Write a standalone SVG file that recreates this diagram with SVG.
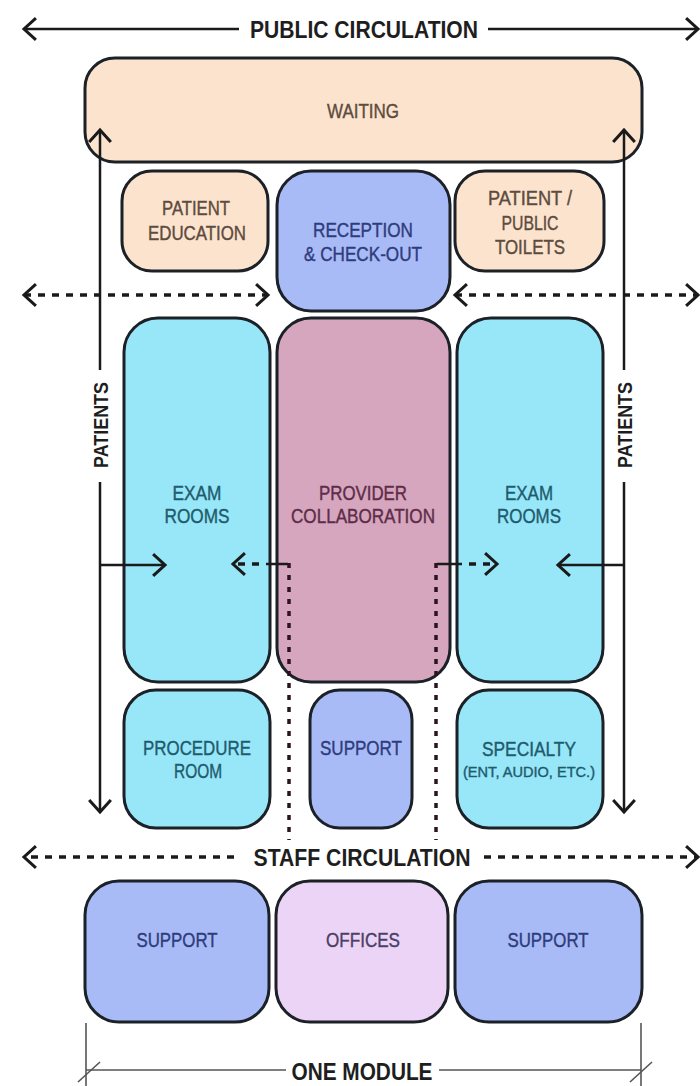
<svg xmlns="http://www.w3.org/2000/svg" width="700" height="1086" viewBox="0 0 700 1086">
  <defs>
    <marker id="chev" viewBox="0 0 24 24" refX="19" refY="12" markerWidth="26" markerHeight="26" markerUnits="userSpaceOnUse" orient="auto-start-reverse">
      <path d="M8,2 L19,12 L8,22" fill="none" stroke="#1a1a1a" stroke-width="2.8" stroke-linejoin="miter"/>
    </marker>
    <style>
      .box { stroke: #1b2126; stroke-width: 3; }
      .peach { fill: #fce3cd; }
      .blue { fill: #a9bbf7; }
      .cyan { fill: #97e7f9; }
      .mauve { fill: #d5a6be; }
      .lilac { fill: #ecd4f7; }
      .lbl { font-family: "Liberation Sans", Arial, sans-serif; font-size: 20px; text-anchor: middle; stroke-width: 0.4; }
      .sm { font-size: 15px; }
      .t-peach { fill: #5c4b40; stroke: #5c4b40; }
      .t-blue { fill: #2f3c7c; stroke: #2f3c7c; }
      .t-cyan { fill: #1f5b6d; stroke: #1f5b6d; }
      .t-mauve { fill: #5e2c48; stroke: #5e2c48; }
      .t-lilac { fill: #4b3f66; stroke: #4b3f66; }
      .head { font-family: "Liberation Sans", Arial, sans-serif; font-weight: bold; font-size: 24px; fill: #1e1e1e; text-anchor: middle; }
      .side { font-family: "Liberation Sans", Arial, sans-serif; font-weight: bold; font-size: 21px; fill: #1e1e1e; text-anchor: middle; }
      .solid { stroke: #1a1a1a; stroke-width: 2.5; fill: none; }
      .dash { stroke: #1a1a1a; stroke-width: 3.5; fill: none; stroke-dasharray: 7 7; }
      .dot { stroke: #2a1420; stroke-width: 3.5; fill: none; stroke-dasharray: 5 7; }
      .dim { stroke: #555; stroke-width: 1.6; fill: none; }
    </style>
  </defs>

  <rect width="700" height="1086" fill="#ffffff"/>

  <!-- rooms -->
  <g id="waiting">
    <rect class="box peach" x="85" y="58" width="557" height="104" rx="30"/>
    <text class="lbl t-peach" x="363" y="118" textLength="72" lengthAdjust="spacingAndGlyphs">WAITING</text>
  </g>
  <g id="patient-education">
    <rect class="box peach" x="122" y="171" width="146" height="100" rx="30"/>
    <text class="lbl t-peach" x="196" y="215" textLength="68" lengthAdjust="spacingAndGlyphs">PATIENT</text>
    <text class="lbl t-peach" x="197" y="240" textLength="98" lengthAdjust="spacingAndGlyphs">EDUCATION</text>
  </g>
  <g id="reception">
    <rect class="box blue" x="277" y="171" width="173" height="140" rx="34"/>
    <text class="lbl t-blue" x="363" y="237" textLength="100" lengthAdjust="spacingAndGlyphs">RECEPTION</text>
    <text class="lbl t-blue" x="363" y="261" textLength="118" lengthAdjust="spacingAndGlyphs">&amp; CHECK-OUT</text>
  </g>
  <g id="patient-toilets">
    <rect class="box peach" x="455" y="171" width="149" height="100" rx="30"/>
    <text class="lbl t-peach" x="530" y="205" textLength="84" lengthAdjust="spacingAndGlyphs">PATIENT /</text>
    <text class="lbl t-peach" x="530" y="230" textLength="57" lengthAdjust="spacingAndGlyphs">PUBLIC</text>
    <text class="lbl t-peach" x="530" y="254" textLength="70" lengthAdjust="spacingAndGlyphs">TOILETS</text>
  </g>
  <g id="exam-rooms-left">
    <rect class="box cyan" x="124" y="318" width="146" height="364" rx="34"/>
    <text class="lbl t-cyan" x="197" y="500" textLength="49" lengthAdjust="spacingAndGlyphs">EXAM</text>
    <text class="lbl t-cyan" x="197" y="523" textLength="65" lengthAdjust="spacingAndGlyphs">ROOMS</text>
  </g>
  <g id="provider-collaboration">
    <rect class="box mauve" x="277" y="318" width="173" height="364" rx="34"/>
    <text class="lbl t-mauve" x="363" y="500" textLength="88" lengthAdjust="spacingAndGlyphs">PROVIDER</text>
    <text class="lbl t-mauve" x="363" y="523" textLength="144" lengthAdjust="spacingAndGlyphs">COLLABORATION</text>
  </g>
  <g id="exam-rooms-right">
    <rect class="box cyan" x="457" y="318" width="146" height="364" rx="34"/>
    <text class="lbl t-cyan" x="529" y="500" textLength="48" lengthAdjust="spacingAndGlyphs">EXAM</text>
    <text class="lbl t-cyan" x="529" y="523" textLength="64" lengthAdjust="spacingAndGlyphs">ROOMS</text>
  </g>
  <g id="procedure-room">
    <rect class="box cyan" x="124" y="690" width="146" height="138" rx="32"/>
    <text class="lbl t-cyan" x="197" y="755" textLength="108" lengthAdjust="spacingAndGlyphs">PROCEDURE</text>
    <text class="lbl t-cyan" x="198" y="778" textLength="48" lengthAdjust="spacingAndGlyphs">ROOM</text>
  </g>
  <g id="support-mid">
    <rect class="box blue" x="310" y="690" width="102" height="138" rx="30"/>
    <text class="lbl t-blue" x="361" y="755" textLength="82" lengthAdjust="spacingAndGlyphs">SUPPORT</text>
  </g>
  <g id="specialty">
    <rect class="box cyan" x="457" y="690" width="146" height="138" rx="32"/>
    <text class="lbl t-cyan" x="529" y="756" textLength="94" lengthAdjust="spacingAndGlyphs">SPECIALTY</text>
    <text class="lbl sm t-cyan" x="529" y="777" textLength="132" lengthAdjust="spacingAndGlyphs">(ENT, AUDIO, ETC.)</text>
  </g>
  <g id="support-left">
    <rect class="box blue" x="85" y="881" width="184" height="141" rx="34"/>
    <text class="lbl t-blue" x="177" y="947" textLength="81" lengthAdjust="spacingAndGlyphs">SUPPORT</text>
  </g>
  <g id="offices">
    <rect class="box lilac" x="276" y="881" width="172" height="141" rx="34"/>
    <text class="lbl t-lilac" x="363" y="947" textLength="74" lengthAdjust="spacingAndGlyphs">OFFICES</text>
  </g>
  <g id="support-right">
    <rect class="box blue" x="455" y="881" width="187" height="141" rx="34"/>
    <text class="lbl t-blue" x="548" y="947" textLength="81" lengthAdjust="spacingAndGlyphs">SUPPORT</text>
  </g>

  <!-- circulation connectors -->
  <g id="connectors">
    <!-- public circulation -->
    <line class="solid" x1="239" y1="29" x2="24" y2="29" marker-end="url(#chev)"/>
    <line class="solid" x1="488" y1="29" x2="698" y2="29" marker-end="url(#chev)"/>
    <text class="head" x="364" y="38" textLength="228" lengthAdjust="spacingAndGlyphs">PUBLIC CIRCULATION</text>

    <!-- patient circulation, left and right -->
    <line class="solid" x1="100" y1="370" x2="100" y2="130" marker-end="url(#chev)"/>
    <line class="solid" x1="100" y1="482" x2="100" y2="812" marker-end="url(#chev)"/>
    <text class="side" transform="translate(108 425) rotate(-90)" textLength="86" lengthAdjust="spacingAndGlyphs">PATIENTS</text>
    <line class="solid" x1="624" y1="370" x2="624" y2="130" marker-end="url(#chev)"/>
    <line class="solid" x1="624" y1="482" x2="624" y2="812" marker-end="url(#chev)"/>
    <text class="side" transform="translate(632 425) rotate(-90)" textLength="86" lengthAdjust="spacingAndGlyphs">PATIENTS</text>

    <!-- patients into exam rooms -->
    <line class="solid" x1="100" y1="565" x2="165" y2="565" marker-end="url(#chev)"/>
    <line class="solid" x1="624" y1="565" x2="558" y2="565" marker-end="url(#chev)"/>

    <!-- public side connections -->
    <line class="dash" x1="24" y1="295" x2="268" y2="295" marker-start="url(#chev)" marker-end="url(#chev)"/>
    <line class="dash" x1="455" y1="295" x2="698" y2="295" marker-start="url(#chev)" marker-end="url(#chev)"/>

    <!-- staff paths from provider area -->
    <line class="solid" x1="288" y1="564" x2="266" y2="564"/>
    <line class="dash" x1="259" y1="564" x2="233" y2="564" marker-end="url(#chev)"/>
    <line class="solid" x1="437" y1="564" x2="462" y2="564"/>
    <line class="dash" x1="469" y1="564" x2="497" y2="564" marker-end="url(#chev)"/>
    <line class="dot" x1="289" y1="563" x2="289" y2="840"/>
    <line class="dot" x1="436" y1="563" x2="436" y2="840"/>

    <!-- staff circulation -->
    <line class="dash" x1="234" y1="857" x2="24" y2="857" marker-end="url(#chev)"/>
    <line class="dash" x1="484" y1="857" x2="698" y2="857" marker-end="url(#chev)"/>
    <text class="head" x="362" y="866" textLength="217" lengthAdjust="spacingAndGlyphs">STAFF CIRCULATION</text>

    <!-- module dimension -->
    <line class="dim" x1="86" y1="1023" x2="86" y2="1086"/>
    <line class="dim" x1="641" y1="1023" x2="641" y2="1086"/>
    <line class="dim" x1="86" y1="1070" x2="286" y2="1070"/>
    <line class="dim" x1="439" y1="1070" x2="641" y2="1070"/>
    <line class="dim" x1="78" y1="1082" x2="100" y2="1062"/>
    <line class="dim" x1="630" y1="1082" x2="652" y2="1062"/>
    <text class="head" x="362" y="1080" textLength="141" lengthAdjust="spacingAndGlyphs">ONE MODULE</text>
  </g>
</svg>
